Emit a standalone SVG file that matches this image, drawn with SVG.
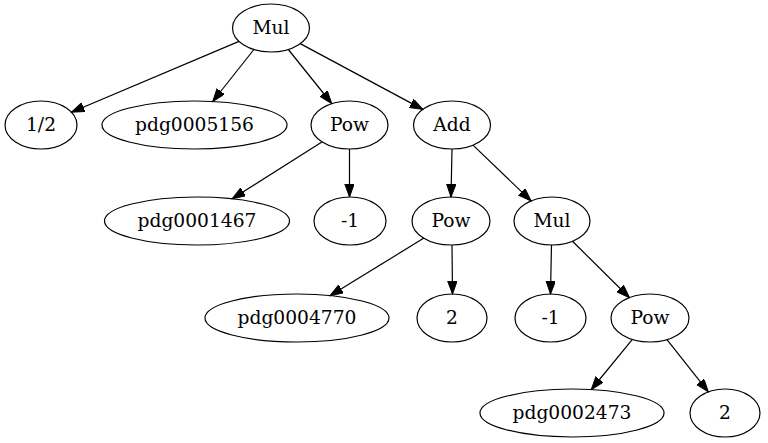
<svg xmlns="http://www.w3.org/2000/svg" width="768" height="443" viewBox="0 0 768 443">
<style>
.n ellipse{fill:none;stroke:#000;stroke-width:1.2}
.n text{font-family:"DejaVu Serif",serif;font-size:18.67px;text-anchor:middle;fill:#000}
.e path{fill:none;stroke:#000;stroke-width:1.2;marker-end:url(#ah)}
</style>
<defs>
<marker id="ah" markerUnits="userSpaceOnUse" markerWidth="14" markerHeight="10" refX="13" refY="4.7" orient="auto" viewBox="0 0 14 10">
<path d="M0,0 L13,4.7 L0,9.4 z" fill="#000" stroke="#000" stroke-width="1"/>
</marker>
</defs>
<rect width="768" height="443" fill="#fff"/>
<g id="edges" class="e">
<path d="M239,41.4 L71.4,112.2"/>
<path d="M253.9,49.5 L212.7,101.5"/>
<path d="M288.3,49.5 L331.7,103.5"/>
<path d="M300.2,43.6 L422.8,109.4"/>
<path d="M321.9,142.1 L232.2,198.8"/>
<path d="M349.5,149 L349.5,197"/>
<path d="M452,149 L451,197"/>
<path d="M473,145.1 L531.1,200.9"/>
<path d="M423.9,238.1 L330,295.8"/>
<path d="M452,245 L452.5,294"/>
<path d="M551.5,245 L550.5,294"/>
<path d="M572.5,241.3 L629.5,297.7"/>
<path d="M632.4,339.4 L591.3,389.5"/>
<path d="M667,339.6 L708.3,391.9"/>
</g>
<g id="mul1" class="n"><ellipse cx="271" cy="28" rx="38.5" ry="24"/><text x="271" y="34">Mul</text></g>
<g id="half" class="n"><ellipse cx="41" cy="125" rx="36" ry="24"/><text x="41" y="131">1/2</text></g>
<g id="pdg0005156" class="n"><ellipse cx="194.5" cy="125" rx="92.5" ry="24"/><text x="194.5" y="131">pdg0005156</text></g>
<g id="pow1" class="n"><ellipse cx="349.5" cy="125" rx="38.5" ry="24"/><text x="349.5" y="131">Pow</text></g>
<g id="add1" class="n"><ellipse cx="452" cy="125" rx="38.5" ry="24"/><text x="452" y="131">Add</text></g>
<g id="pdg0001467" class="n"><ellipse cx="197" cy="221" rx="92.5" ry="24"/><text x="197" y="227">pdg0001467</text></g>
<g id="neg1a" class="n"><ellipse cx="350" cy="221" rx="36" ry="24"/><text x="350" y="227">-1</text></g>
<g id="pow2" class="n"><ellipse cx="451" cy="221" rx="39" ry="24"/><text x="451" y="227">Pow</text></g>
<g id="mul2" class="n"><ellipse cx="552" cy="221" rx="38" ry="24"/><text x="552" y="227">Mul</text></g>
<g id="pdg0004770" class="n"><ellipse cx="297" cy="318" rx="92" ry="24"/><text x="297" y="324">pdg0004770</text></g>
<g id="two1" class="n"><ellipse cx="452" cy="318" rx="35" ry="24"/><text x="452" y="324">2</text></g>
<g id="neg1b" class="n"><ellipse cx="550.5" cy="318" rx="35.5" ry="24"/><text x="550.5" y="324">-1</text></g>
<g id="pow3" class="n"><ellipse cx="650" cy="318" rx="39" ry="24"/><text x="650" y="324">Pow</text></g>
<g id="pdg0002473" class="n"><ellipse cx="572" cy="413" rx="92" ry="24"/><text x="572" y="419">pdg0002473</text></g>
<g id="two2" class="n"><ellipse cx="725" cy="413" rx="35" ry="24"/><text x="725" y="419">2</text></g>
</svg>
